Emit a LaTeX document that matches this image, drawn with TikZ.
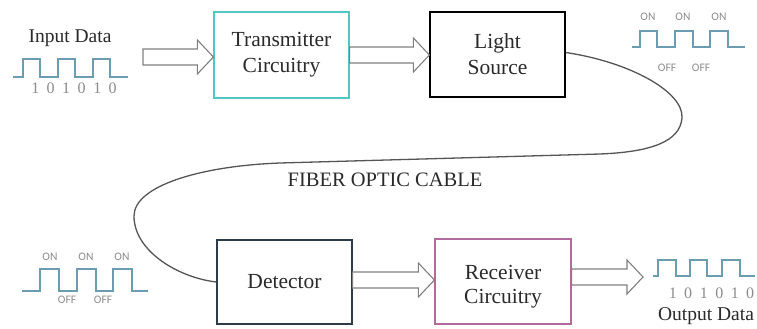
\documentclass[tikz,border=0pt]{standalone}
\usepackage{fontspec}
\setmainfont{Liberation Serif}
\newfontfamily\onofffont{Carlito}
\usetikzlibrary{calc}
\definecolor{txc}{HTML}{52C6C0}
\definecolor{detc}{HTML}{2E3B48}
\definecolor{rxc}{HTML}{B06A9C}
\definecolor{wavec}{HTML}{6C9CB0}
\definecolor{arrc}{HTML}{808080}
\definecolor{labc}{HTML}{8C8C8C}
\definecolor{cablec}{HTML}{555555}
\definecolor{txtc}{HTML}{2A2A2A}
\newcommand\blockarrow[2]{%
  \draw[barrow] let \p1=(#1), \p2=(#2) in
    (\x1,\y1+8pt) -- (\x2-16pt,\y1+8pt) -- (\x2-16pt,\y1+17pt) -- (\x2,\y1)
    -- (\x2-16pt,\y1-17pt) -- (\x2-16pt,\y1-8pt) -- (\x1,\y1-8pt) -- cycle;}
\newcommand\widebits[1]{{\spaceskip=7.5pt\relax #1}}
\begin{document}
\begin{tikzpicture}[x=1pt,y=-1pt,
  box/.style={rectangle, line width=1.2pt, fill=white, text=txtc, align=center,
    inner sep=0pt, font=\fontsize{21.5}{26}\selectfont},
  boxtext/.style={text=txtc, align=center, inner sep=0pt, font=\fontsize{21.5}{24}\selectfont},
  barrow/.style={draw=arrc, fill=white, line width=1.1pt, line join=miter},
  wave/.style={draw=wavec, line width=1.5pt},
  onoff/.style={text=labc, inner sep=0pt, font=\onofffont\fontsize{11.5}{12}\selectfont},
  bits/.style={text=labc, inner sep=0pt, font=\fontsize{16}{17}\selectfont},
  lbl/.style={text=txtc, inner sep=0pt, font=\fontsize{19.5}{22}\selectfont},
  cable/.style={draw=cablec, line width=1.3pt}]
\useasboundingbox (0,0) rectangle (757,329);
\fill[white] (0,0) rectangle (757,329);

% boxes
\node[box, draw=txc, minimum width=135pt, minimum height=86pt] (tx) at (281.5,55) {Transmitter\\Circuitry};
\node[box, draw=black, minimum width=135pt, minimum height=85pt] (ls) at (497.5,54.5) {Light\\Source};
\node[box, draw=detc, minimum width=135pt, minimum height=84pt] (det) at (284.5,282) {Detector};
\node[box, draw=rxc, minimum width=136pt, minimum height=85pt] (rx) at (503,281.5) {};
\node[boxtext] (rxt) at (503,287) {Receiver\\Circuitry};

% input side
\node[lbl] (indata) at (70,38) {Input Data};
\draw[wave] (13,77) -- (23,77) -- (23,59) -- (40,59) -- (40,77) -- (58,77) -- (58,59) -- (75,59)
  -- (75,77) -- (93,77) -- (93,59) -- (110,59) -- (110,77) -- (128,77);
\node[bits] (inbits) at (74,88) {\widebits{1 0 1 0 1 0}};
\coordinate (in1) at (143,57);

% output side
\draw[wave] (653,276) -- (658,276) -- (658,260) -- (676,260) -- (676,276) -- (690,276) -- (690,260)
  -- (707,260) -- (707,276) -- (722,276) -- (722,260) -- (740,260) -- (740,276) -- (755,276);
\node[bits] (outbits) at (711.5,293) {\widebits{1 0 1 0 1 0}};
\node[lbl] (outdata) at (706,316) {Output Data};
\coordinate (out1) at (643,277);

% block arrows
\blockarrow{in1}{tx.west}
\blockarrow{tx.east}{ls.west}
\blockarrow{[yshift=2pt]det.east}{rx.west}
\blockarrow{[yshift=4.5pt]rx.east}{out1}

% top-right ON/OFF signal
\draw[wave] (632,47) -- (640,47) -- (640,31) -- (657,31) -- (657,47) -- (675,47) -- (675,31) -- (693,31)
  -- (693,47) -- (710,47) -- (710,31) -- (728,31) -- (728,47) -- (745,47);
\node[onoff] (on1) at (648,17) {ON};
\node[onoff] (on2) at (683,17) {ON};
\node[onoff] (on3) at (719,17) {ON};
\node[onoff] (off1) at (667,68) {OFF};
\node[onoff] (off2) at (701,68) {OFF};

% bottom-left ON/OFF signal
\draw[wave] (22,291) -- (40,291) -- (40,269) -- (59,269) -- (59,291) -- (77,291) -- (77,269) -- (96,269)
  -- (96,291) -- (113,291) -- (113,269) -- (132,269) -- (132,291) -- (148,291);
\node[onoff] (on4) at (50,257) {ON};
\node[onoff] (on5) at (86,257) {ON};
\node[onoff] (on6) at (122,257) {ON};
\node[onoff] (off3) at (67,300) {OFF};
\node[onoff] (off4) at (103,300) {OFF};

% fiber optic cable
\draw[cable] ([yshift=2pt]ls.east) .. controls (630,62) and (684,92) .. (682,118)
  .. controls (680,142) and (650,152) .. (600,154)
  -- (280,163)
  .. controls (200,166) and (134,186) .. (134,216)
  .. controls (134,252) and (180,278) .. (det.west);
\node[text=txtc, inner sep=0pt, font=\fontsize{20.5}{22}\selectfont] (fiber) at (385,180) {FIBER OPTIC CABLE};
\end{tikzpicture}
\end{document}
